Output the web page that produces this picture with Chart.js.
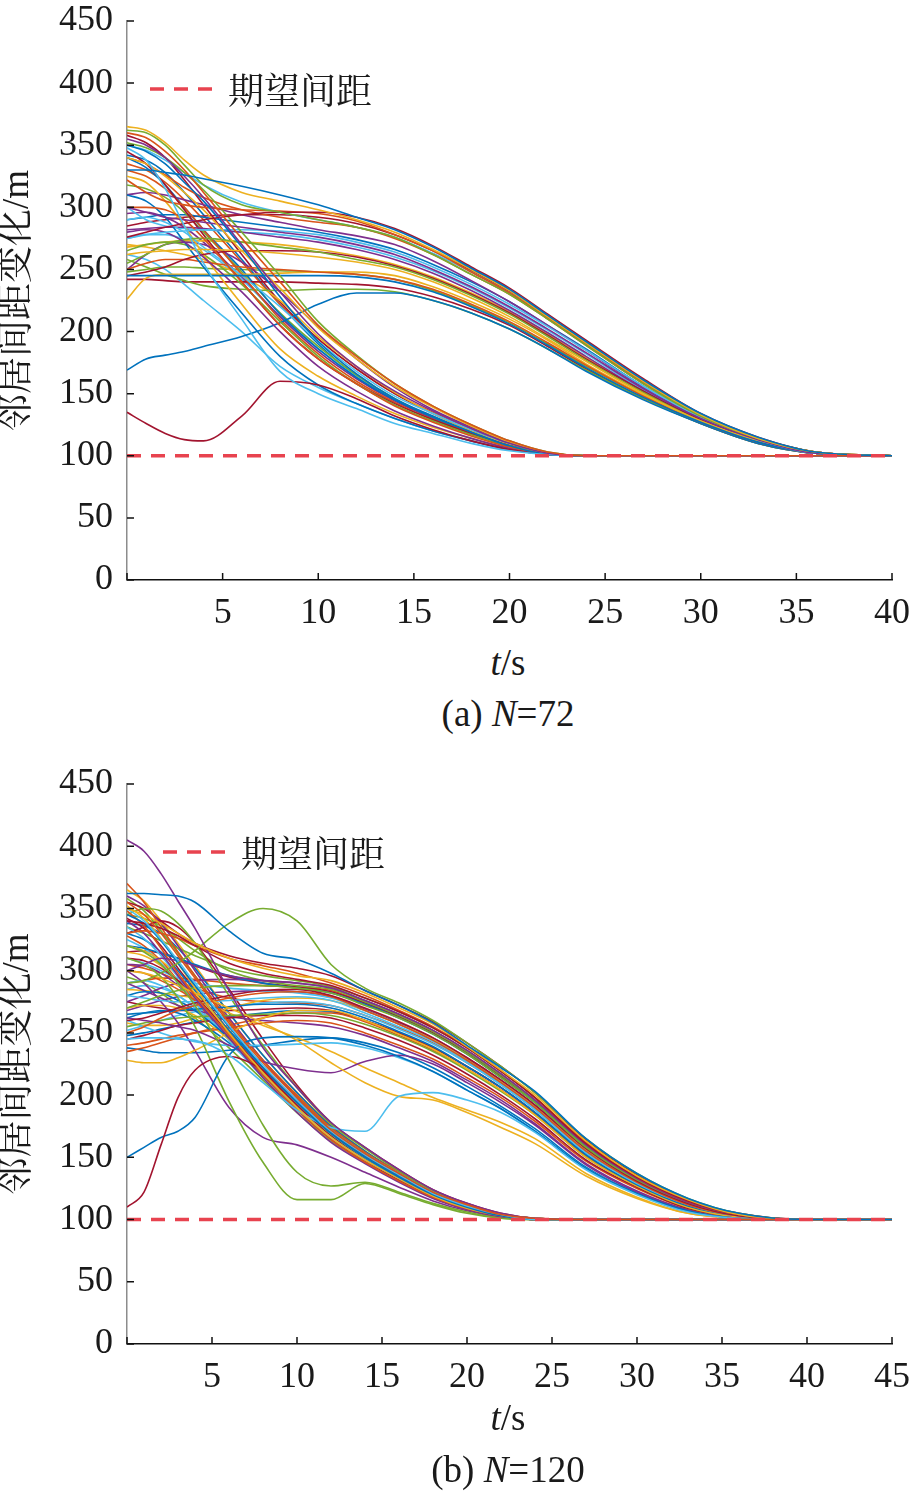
<!DOCTYPE html>
<html>
<head>
<meta charset="utf-8">
<script src="https://cdn.jsdelivr.net/npm/chart.js@4.4.1/dist/chart.umd.min.js"></script>
<style>
  body { margin: 0; background: #fff; }
  #wrap { position: relative; width: 911px; height: 1493px; overflow: hidden; }
  canvas { position: absolute; left: 0; }
  .lbl { position: absolute; transform: translateX(-50%); white-space: nowrap;
         font-family: 'Liberation Serif', 'Times New Roman', serif; font-size: 37px;
         line-height: 40px; color: #1a1a1a; }
</style>
</head>
<body>
<div id="wrap">
  <canvas id="chartA" width="911" height="640" style="top:0"></canvas>
  <canvas id="chartB" width="911" height="644" style="top:760px"></canvas>
  <div class="lbl" style="left:508px;top:643px"><i>t</i>/s</div>
  <div class="lbl" style="left:508px;top:694px">(a) <i>N</i>=72</div>
  <div class="lbl" style="left:508px;top:1398px"><i>t</i>/s</div>
  <div class="lbl" style="left:508px;top:1450px">(b) <i>N</i>=120</div>
</div>
<script>
// time samples (s)
const timeA = [0, 1, 2, 3, 4, 6, 8, 10, 12, 14, 16, 18, 20, 22, 24, 27, 30, 33, 36, 40];
const timeB = [0, 1, 2, 3, 4, 6, 8, 10, 12, 14, 16, 18, 20, 22, 24, 27, 30, 33, 36, 40, 45];
const yTicks = [0, 50, 100, 150, 200, 250, 300, 350, 400, 450];
const desired = 100;
const legendText = "期望间距";

// (a) N=72 : slowly converging neighbours
const slowA = [
  [330,330,328,326,323,317,310,302,292,282,268,251,234,213,192,161,134,115,103,100],
  [365,362,352,338,326,312,305,298,290,280,266,250,233,212,191,160,133,114,103,100],
  [362,360,350,334,318,302,296,290,284,276,262,246,230,210,189,158,132,114,103,100],
  [276,280,284,287,290,294,296,296,292,283,269,252,235,214,193,162,134,115,103,100],
  [322,312,305,302,300,298,297,295,289,278,265,248,231,211,190,159,132,114,103,100],
  [300,296,292,290,288,284,280,276,270,262,250,236,220,202,183,154,130,113,102,100],
  [275,278,280,281,282,282,281,278,272,264,252,238,222,204,185,156,131,113,102,100],
  [245,245,245,245,245,245,245,245,244,240,232,220,206,189,171,147,127,111,102,100],
  [262,264,265,266,266,265,263,260,256,250,240,227,212,194,176,150,128,112,102,100],
  [255,262,270,274,275,272,268,264,258,252,242,229,214,196,177,151,128,112,102,100],
  [245,248,252,258,262,265,265,264,260,253,243,230,215,197,178,152,129,112,102,100],
  [250,255,258,258,256,252,250,248,246,242,234,222,208,191,173,148,127,111,102,100],
  [282,283,284,284,283,280,276,272,266,258,247,233,217,199,180,152,129,112,102,100],
  [300,290,285,283,282,280,278,274,268,260,249,235,219,201,182,153,130,112,102,100],
  [169,178,181,184,188,196,207,222,231,231,225,215,202,186,168,145,126,110,102,100],
  [226,243,246,246,246,246,247,248,248,245,236,224,210,193,174,149,127,111,102,100],
  [258,252,246,241,237,234,233,234,234,232,225,215,202,186,169,146,126,110,102,100],
  [242,242,241,240,240,240,240,239,238,235,228,218,205,188,170,146,126,110,102,100],
  [340,335,326,316,308,298,292,288,284,275,262,246,230,210,189,158,132,114,103,100],
  [310,312,310,306,302,294,288,282,277,270,257,241,224,205,185,155,131,113,102,100],
  [350,346,338,328,318,304,296,290,284,276,263,248,231,211,190,159,133,114,103,100],
  [290,292,294,294,292,288,284,280,274,266,254,240,224,205,186,156,131,113,102,100],
  [268,270,272,273,273,272,270,266,261,254,244,231,216,198,179,152,129,112,102,100],
  [248,250,252,252,251,250,249,248,246,242,233,221,207,190,172,148,127,111,102,100],
  [285,288,290,292,293,294,294,292,287,278,265,249,232,212,191,160,133,114,103,100]
];

// (a) N=72 : quickly converging neighbours
const fastA = [
  [360,356,345,330,312,275,240,205,180,158,140,125,112,103,100,100,100,100,100,100],
  [355,350,340,325,308,270,232,198,172,152,136,122,110,102,100,100,100,100,100,100],
  [348,338,315,285,255,210,168,150,138,126,118,110,104,101,100,100,100,100,100,100],
  [350,345,335,320,305,268,228,192,166,146,132,119,108,101,100,100,100,100,100,100],
  [340,335,325,312,298,265,235,203,178,156,139,124,111,102,100,100,100,100,100,100],
  [352,348,340,328,314,280,245,208,181,158,140,125,112,103,100,100,100,100,100,100],
  [135,126,118,113,112,132,160,157,146,132,121,112,105,101,100,100,100,100,100,100],
  [300,300,298,290,275,240,205,178,158,140,127,116,107,101,100,100,100,100,100,100],
  [280,282,280,272,260,232,200,172,152,136,124,114,106,101,100,100,100,100,100,100],
  [290,292,288,280,268,245,220,192,168,148,134,121,110,102,100,100,100,100,100,100],
  [310,305,292,272,252,215,180,157,142,130,120,112,105,101,100,100,100,100,100,100],
  [325,320,305,285,262,222,186,164,148,134,123,114,106,101,100,100,100,100,100,100],
  [265,270,272,270,262,238,208,180,158,141,128,117,108,102,100,100,100,100,100,100],
  [345,335,318,298,278,240,205,178,158,142,129,118,108,102,100,100,100,100,100,100],
  [330,325,315,300,282,246,210,182,160,143,129,118,108,102,100,100,100,100,100,100],
  [250,262,270,272,270,256,232,204,178,155,137,123,111,102,100,100,100,100,100,100],
  [262,258,250,238,225,200,172,155,142,130,120,112,105,101,100,100,100,100,100,100],
  [340,332,318,300,282,250,214,186,163,145,131,119,108,102,100,100,100,100,100,100],
  [270,268,265,262,258,245,225,196,172,151,134,120,109,102,100,100,100,100,100,100],
  [318,315,308,296,280,248,215,188,165,146,131,119,108,102,100,100,100,100,100,100],
  [358,352,340,322,302,262,224,194,170,150,134,121,110,102,100,100,100,100,100,100],
  [335,330,320,306,290,256,222,194,170,150,135,121,110,102,100,100,100,100,100,100],
  [295,296,292,284,272,244,212,184,162,144,130,118,108,101,100,100,100,100,100,100],
  [275,278,278,274,266,242,212,186,164,146,131,119,108,102,100,100,100,100,100,100],
  [342,338,328,312,294,258,222,190,164,145,130,118,107,101,100,100,100,100,100,100]
];

// (b) N=120 : slowly converging neighbours
const slowB = [
  [362,362,361,360,355,332,314,309,298,284,272,258,240,222,203,165,137,117,105,100,100],
  [350,345,338,330,322,310,302,296,292,282,270,257,239,220,200,163,135,116,104,100,100],
  [290,292,298,306,316,338,350,340,305,286,274,260,242,223,202,165,137,117,105,100,100],
  [340,338,334,328,320,306,298,293,288,278,267,254,238,219,198,161,134,115,104,100,100],
  [330,332,330,326,320,310,304,298,290,280,268,255,239,220,198,162,134,115,104,100,100],
  [300,305,310,308,304,296,292,290,286,276,265,252,236,217,196,160,133,114,104,100,100],
  [245,246,246,245,244,232,210,188,174,171,199,202,196,186,170,140,120,106,101,100,100],
  [150,158,166,171,182,232,246,247,246,240,231,219,204,189,171,141,121,107,101,100,100],
  [300,298,294,288,282,270,258,244,226,210,199,196,186,174,161,135,117,105,101,100,100],
  [270,275,280,284,286,288,288,286,282,272,262,249,233,214,194,158,132,114,104,100,100],
  [260,262,266,270,274,280,284,285,280,270,259,246,230,212,192,157,131,113,103,100,100],
  [250,255,262,268,272,278,282,283,279,268,257,244,228,210,190,155,130,112,103,100,100],
  [262,260,258,255,252,240,227,221,218,227,232,225,210,194,176,144,122,107,101,100,100],
  [280,278,276,275,275,276,278,279,276,266,255,243,227,209,189,154,129,112,103,100,100],
  [265,266,267,268,269,271,273,273,270,262,251,239,223,206,186,152,128,111,103,100,100],
  [228,226,226,230,236,250,262,268,268,260,249,237,221,204,184,150,127,110,102,100,100],
  [255,258,260,262,263,264,265,266,264,257,247,235,220,203,184,150,127,110,102,100,100],
  [245,248,252,256,258,262,264,264,262,254,244,232,217,200,181,148,126,109,102,100,100],
  [240,242,245,248,250,254,258,260,258,250,240,229,214,198,179,147,125,109,102,100,100],
  [290,284,278,272,268,263,260,258,255,248,238,227,212,196,177,145,123,108,102,100,100],
  [260,255,250,246,243,240,240,241,242,238,230,219,204,189,171,141,121,107,101,100,100],
  [320,318,314,310,305,296,290,286,282,273,262,249,233,214,194,158,132,114,104,100,100],
  [285,284,282,280,278,266,256,246,235,222,210,198,188,178,165,137,118,105,101,100,100],
  [345,342,336,326,316,300,292,288,285,275,264,251,235,216,195,159,132,114,104,100,100],
  [355,350,340,330,322,312,306,302,296,284,272,259,242,223,202,164,136,116,105,100,100],
  [235,238,242,246,250,256,262,266,266,259,248,236,221,204,185,151,127,110,102,100,100],
  [275,280,286,290,292,293,292,290,286,276,265,252,236,217,196,160,133,114,104,100,100],
  [310,306,300,294,290,286,284,282,278,268,257,244,228,210,190,155,130,112,103,100,100],
  [238,236,234,234,234,236,240,244,246,242,234,222,207,191,173,142,121,107,101,100,100],
  [258,256,256,258,262,270,276,278,276,268,257,245,229,211,191,156,130,112,103,100,100],
  [335,330,324,318,312,302,296,292,287,278,267,254,238,219,198,161,134,115,104,100,100],
  [315,316,314,310,304,295,290,287,283,274,263,250,234,215,195,159,132,114,104,100,100],
  [290,292,294,294,293,290,288,287,284,274,263,250,234,215,195,159,132,114,104,100,100],
  [268,272,276,279,281,283,284,283,279,269,258,246,230,212,192,156,130,112,103,100,100],
  [252,256,260,264,267,271,274,275,272,264,253,241,226,208,188,153,129,111,103,100,100],
  [275,272,270,268,268,268,269,270,268,260,250,238,223,206,186,152,128,111,103,100,100],
  [248,250,253,256,259,263,266,268,267,260,250,238,223,206,186,151,128,110,102,100,100],
  [305,302,298,292,286,278,275,274,272,264,254,242,226,209,189,154,129,112,103,100,100]
];

// (b) N=120 : quickly converging neighbours
const fastB = [
  [355,345,330,312,294,258,226,198,172,153,137,122,112,104,101,100,100,100,100,100,100],
  [405,396,378,356,334,284,238,206,178,158,140,124,113,105,101,100,100,100,100,100,100],
  [350,340,325,308,290,256,224,196,171,152,136,121,111,104,100,100,100,100,100,100,100],
  [345,338,324,306,288,255,222,194,169,150,134,120,110,103,100,100,100,100,100,100,100],
  [352,342,326,306,286,250,218,190,166,148,133,119,109,103,100,100,100,100,100,100,100],
  [320,315,305,290,272,228,176,138,127,130,122,113,106,101,100,100,100,100,100,100,100],
  [110,122,160,198,220,231,220,196,171,152,136,121,110,103,100,100,100,100,100,100,100],
  [348,336,318,298,280,248,216,188,164,146,131,118,109,103,100,100,100,100,100,100,100],
  [340,330,314,296,278,246,214,186,162,145,130,117,108,102,100,100,100,100,100,100,100],
  [335,326,312,295,278,247,217,190,166,148,133,119,109,103,100,100,100,100,100,100,100],
  [330,325,315,300,284,252,222,195,170,151,135,121,110,103,100,100,100,100,100,100,100],
  [320,316,308,296,282,252,222,194,169,150,134,120,110,103,100,100,100,100,100,100,100],
  [310,305,295,278,255,195,146,116,116,129,121,112,105,101,100,100,100,100,100,100,100],
  [310,308,302,292,280,250,220,192,167,148,132,119,109,103,100,100,100,100,100,100,100],
  [300,298,292,285,276,248,219,190,165,147,132,118,108,102,100,100,100,100,100,100,100],
  [300,290,275,258,236,190,166,160,150,138,126,115,107,102,100,100,100,100,100,100,100],
  [290,292,288,280,270,248,222,196,172,153,137,122,111,104,101,100,100,100,100,100,100],
  [280,283,282,276,268,246,220,194,170,151,135,121,110,103,100,100,100,100,100,100,100],
  [270,272,272,270,264,245,220,195,171,152,136,121,111,104,101,100,100,100,100,100,100],
  [345,350,348,338,322,280,240,206,177,157,139,123,112,104,101,100,100,100,100,100,100],
  [330,335,340,335,322,285,245,208,178,158,140,124,113,105,101,100,100,100,100,100,100],
  [370,355,335,315,296,260,228,200,174,154,138,122,111,104,101,100,100,100,100,100,100],
  [360,352,338,320,300,262,228,198,172,152,136,121,110,103,100,100,100,100,100,100,100],
  [325,318,306,290,274,244,214,188,164,146,131,118,108,102,100,100,100,100,100,100,100],
  [262,266,268,266,260,242,216,190,167,149,133,119,109,103,100,100,100,100,100,100,100],
  [315,312,304,292,278,248,218,192,168,150,134,120,110,103,100,100,100,100,100,100,100],
  [358,348,332,314,296,260,228,199,173,154,137,122,111,104,101,100,100,100,100,100,100],
  [342,334,320,302,285,252,220,192,167,149,133,119,109,103,100,100,100,100,100,100,100],
  [328,320,308,292,276,246,216,189,165,147,132,118,108,102,100,100,100,100,100,100,100],
  [305,304,298,288,276,248,218,191,167,148,133,119,109,103,100,100,100,100,100,100,100],
  [285,288,286,280,270,246,218,192,168,150,134,120,110,103,100,100,100,100,100,100,100],
  [338,336,330,318,302,266,232,202,175,155,138,123,112,104,101,100,100,100,100,100,100],
  [365,356,340,322,304,266,232,202,176,155,138,122,111,104,101,100,100,100,100,100,100],
  [295,290,282,272,262,238,212,186,163,146,131,118,108,102,100,100,100,100,100,100,100]
];

const palette = ['#0072BD', '#D95319', '#EDB120', '#7E2F8E', '#77AC30', '#4DBEEE', '#A2142F'];
const redDash = '#e8434f';
const serif = "'Liberation Serif', 'Times New Roman', serif";

// short tick marks pointing into the plot
const innerTicks = {
  id: 'innerTicks',
  afterDraw(chart) {
    const {ctx, chartArea, scales: {x, y}} = chart;
    ctx.save();
    ctx.strokeStyle = '#111';
    ctx.lineWidth = 1.5;
    ctx.beginPath();
    x.ticks.forEach(t => {
      const px = x.getPixelForValue(t.value);
      ctx.moveTo(px, chartArea.bottom);
      ctx.lineTo(px, chartArea.bottom - 7);
    });
    y.ticks.forEach(t => {
      const py = y.getPixelForValue(t.value);
      ctx.moveTo(chartArea.left, py);
      ctx.lineTo(chartArea.left + 7, py);
    });
    ctx.stroke();
    ctx.restore();
  }
};

// legend entry drawn inside the plot
const dashLegend = {
  id: 'dashLegend',
  afterDraw(chart, args, opts) {
    const ctx = chart.ctx;
    ctx.save();
    ctx.strokeStyle = redDash;
    ctx.lineWidth = 3.5;
    ctx.setLineDash([14, 10]);
    ctx.beginPath();
    ctx.moveTo(opts.x, opts.y);
    ctx.lineTo(opts.x + 62, opts.y);
    ctx.stroke();
    ctx.setLineDash([]);
    ctx.fillStyle = '#1a1a1a';
    ctx.font = "36px 'Noto Serif CJK SC'";
    ctx.textBaseline = 'middle';
    ctx.fillText(legendText, opts.x + 78, opts.y + 1);
    ctx.restore();
  }
};

function buildDatasets(times, slow, fast, tEnd) {
  const curves = [];
  const n = Math.max(slow.length, fast.length);
  for (let i = 0; i < n; i++) {
    if (slow[i]) curves.push(slow[i]);
    if (fast[i]) curves.push(fast[i]);
  }
  const ds = [{
    label: legendText,
    data: [{x: 0, y: desired}, {x: tEnd, y: desired}],
    borderColor: redDash,
    borderWidth: 3.5,
    borderDash: [14, 10],
    pointRadius: 0,
    order: 0
  }];
  curves.forEach((c, i) => {
    ds.push({
      data: c.map((v, k) => ({x: times[k], y: v})),
      borderColor: palette[i % palette.length],
      borderWidth: 1.6,
      pointRadius: 0,
      cubicInterpolationMode: 'monotone',
      order: 1
    });
  });
  return ds;
}

function makeChart(id, times, slow, fast, tEnd, padTop, legendPos) {
  const ctx = document.getElementById(id).getContext('2d');
  return new Chart(ctx, {
    type: 'line',
    data: { datasets: buildDatasets(times, slow, fast, tEnd) },
    plugins: [innerTicks, dashLegend],
    options: {
      responsive: false,
      animation: false,
      layout: { padding: { left: 0, right: 19, top: padTop, bottom: 0 } },
      plugins: {
        legend: { display: false },
        tooltip: { enabled: false },
        dashLegend: legendPos
      },
      scales: {
        x: {
          type: 'linear',
          min: 0,
          max: tEnd,
          afterFit: (s) => { s.height = 60; s.paddingLeft = 0; s.paddingRight = 0; },
          border: { color: '#111', width: 1.5 },
          grid: { display: false, drawTicks: false },
          ticks: {
            stepSize: 5,
            autoSkip: false,
            maxRotation: 0,
            padding: 12,
            color: '#1a1a1a',
            font: { family: serif, size: 36 },
            callback: (v) => (v === 0 ? '' : v)
          }
        },
        y: {
          min: 0,
          max: 450,
          afterFit: (s) => { s.width = 127; s.paddingTop = 0; s.paddingBottom = 0; },
          afterBuildTicks: (s) => { s.ticks = yTicks.map(v => ({value: v})); },
          border: { color: '#8c8c8c', width: 1.5 },
          grid: { display: false, drawTicks: false },
          ticks: {
            padding: 14,
            color: '#1a1a1a',
            font: { family: serif, size: 36 }
          },
          title: {
            display: true,
            text: '邻居间距变化/m',
            color: '#1a1a1a',
            font: { family: "'Liberation Serif', 'Noto Serif CJK SC', serif", size: 37, lineHeight: 1 },
            padding: { top: 0, bottom: 0 }
          }
        }
      }
    }
  });
}

makeChart('chartA', timeA, slowA, fastA, 40, 21, {x: 150, y: 89});
makeChart('chartB', timeB, slowB, fastB, 45, 24, {x: 163, y: 92});
</script>
</body>
</html>
